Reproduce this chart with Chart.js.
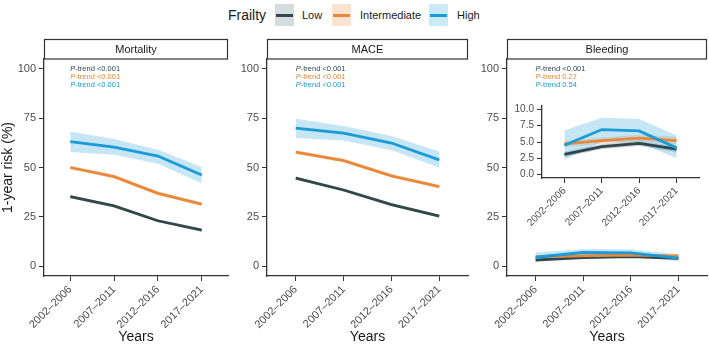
<!DOCTYPE html>
<html>
<head>
<meta charset="utf-8">
<script src="https://cdn.jsdelivr.net/npm/chart.js@4.4.0/dist/chart.umd.min.js"></script>
<style>
  body { margin: 0; background: #fff; }
  #wrap { position: relative; width: 709px; height: 346px; overflow: hidden; font-family: "Liberation Sans", Arial, sans-serif; }
  canvas { position: absolute; }
  .lg { position: absolute; color: #1a1a1a; white-space: nowrap; }
  .key { position: absolute; top: 4px; width: 19px; height: 22px; }
  .key i { position: absolute; left: 1px; right: 1px; top: 10px; height: 3px; }
</style>
</head>
<body>
<div id="wrap">
  <div class="lg" style="left:228px; top:6px; font-size:14px; line-height:18px;">Frailty</div>
  <div class="key" style="left:275px; background:#d5dcdd;"><i style="background:#2f474d"></i></div>
  <div class="lg" style="left:302px; top:8px; font-size:11px; line-height:14px;">Low</div>
  <div class="key" style="left:332px; background:#fbe3d0;"><i style="background:#e8883a"></i></div>
  <div class="lg" style="left:360px; top:8px; font-size:11px; line-height:14px;">Intermediate</div>
  <div class="key" style="left:429px; background:#c9eaf8;"><i style="background:#1a9ad6"></i></div>
  <div class="lg" style="left:457px; top:8px; font-size:11px; line-height:14px;">High</div>

  <canvas id="mortality" width="235" height="346" style="left:0; top:0;"></canvas>
  <canvas id="mace" width="240" height="346" style="left:235px; top:0;"></canvas>
  <canvas id="bleeding" width="234" height="346" style="left:475px; top:0;"></canvas>
  <canvas id="inset" width="209" height="145" style="left:500px; top:95px;"></canvas>
</div>
<script>
// periode dan grup frailty
const periods = ['2002–2006', '2007–2011', '2012–2016', '2017–2021'];
const groups = ['Low', 'Intermediate', 'High'];
const yTicks = [0, 25, 50, 75, 100];
const insetTicks = [0, 2.5, 5, 7.5, 10];

// Mortality (%)
const mortLow = [35.2, 30.5, 23.0, 18.3];
const mortLowLo = [34.4, 29.7, 22.3, 17.5];
const mortLowHi = [36.0, 31.3, 23.7, 19.1];
const mortInt = [50.0, 45.4, 36.9, 31.4];
const mortIntLo = [49.0, 44.4, 35.9, 30.4];
const mortIntHi = [51.0, 46.4, 37.9, 32.4];
const mortHigh = [63.1, 60.3, 55.8, 46.2];
const mortHighLo = [57.8, 56.4, 51.9, 42.0];
const mortHighHi = [68.2, 64.4, 59.0, 50.2];

// MACE (%)
const maceLow = [44.6, 38.6, 31.2, 25.4];
const maceLowLo = [43.8, 37.8, 30.4, 24.6];
const maceLowHi = [45.4, 39.4, 32.0, 26.2];
const maceInt = [57.8, 53.5, 45.8, 40.3];
const maceIntLo = [56.8, 52.5, 44.8, 39.3];
const maceIntHi = [58.8, 54.5, 46.8, 41.3];
const maceHigh = [70.0, 67.4, 62.4, 53.9];
const maceHighLo = [64.9, 63.7, 58.8, 50.0];
const maceHighHi = [74.7, 71.0, 66.0, 58.1];

// Bleeding (%)
const bleedLow = [3.1, 4.3, 4.8, 3.9];
const bleedLowLo = [2.7, 3.9, 4.4, 3.4];
const bleedLowHi = [3.5, 4.7, 5.2, 4.3];
const bleedInt = [4.7, 5.2, 5.6, 5.2];
const bleedIntLo = [4.2, 4.7, 5.1, 4.6];
const bleedIntHi = [5.2, 5.7, 6.1, 5.8];
const bleedHigh = [4.5, 6.9, 6.7, 4.1];
const bleedHighLo = [2.3, 5.0, 4.9, 2.5];
const bleedHighHi = [6.8, 8.7, 8.5, 6.0];

// P-trend per grup (Low, Intermediate, High)
const mortP = ['<0.001', '<0.001', '<0.001'];
const maceP = ['<0.001', '<0.001', '<0.001'];
const bleedP = ['<0.001', '0.27', '0.54'];

const FONT = '"Liberation Sans", Arial, sans-serif';
const lineColors = ['#2f474d', '#e8883a', '#1a9ad6'];
const bandColors = ['rgba(47,71,77,0.22)', 'rgba(232,136,58,0.22)', 'rgba(26,154,214,0.25)'];
const axisColor = '#333333';
const tickColor = '#4d4d4d';

const pts = arr => arr.map((v, i) => ({ x: i + 1, y: v }));

// garis di atas, pita (ribbon) di bawah
function buildDatasets(series) {
    const lines = [], bands = [];
    series.forEach((s, g) => {
        lines.unshift({ data: pts(s[0]), borderColor: lineColors[g], borderWidth: 2.8, pointRadius: 0, fill: false, tension: 0 });
        bands.unshift(
            { data: pts(s[2]), borderColor: 'rgba(0,0,0,0)', borderWidth: 0, pointRadius: 0, backgroundColor: bandColors[g], fill: '+1' },
            { data: pts(s[1]), borderColor: 'rgba(0,0,0,0)', borderWidth: 0, pointRadius: 0, fill: false }
        );
    });
    return lines.concat(bands);
}

const stripPlugin = {
    id: 'strip',
    afterDraw(chart, args, opts) {
        if (!opts.text) return;
        const { ctx, chartArea } = chart;
        const x = chartArea.left, w = chartArea.right - chartArea.left;
        ctx.save();
        ctx.fillStyle = '#fff';
        ctx.fillRect(x, 39, w, 20);
        ctx.strokeStyle = axisColor;
        ctx.lineWidth = 1.2;
        ctx.strokeRect(x + 0.5, 39.5, w - 1, 19.5);
        ctx.fillStyle = '#1a1a1a';
        ctx.font = '11px ' + FONT;
        ctx.textAlign = 'center';
        ctx.textBaseline = 'middle';
        ctx.fillText(opts.text, x + w / 2, 49.5);
        ctx.restore();
    }
};

const ptrendPlugin = {
    id: 'ptrend',
    afterDatasetsDraw(chart, args, opts) {
        if (!opts.values) return;
        const ctx = chart.ctx;
        const x0 = chart.scales.x.getPixelForValue(1);
        const y0 = chart.scales.y.getPixelForValue(100);
        ctx.save();
        ctx.textAlign = 'left';
        ctx.textBaseline = 'middle';
        opts.values.forEach((v, g) => {
            const y = y0 + g * 7.8;
            ctx.fillStyle = lineColors[g];
            ctx.font = 'italic 7.5px ' + FONT;
            ctx.fillText('P', x0, y);
            const w = ctx.measureText('P').width;
            ctx.font = '7.5px ' + FONT;
            ctx.fillText('-trend ' + v, x0 + w, y);
        });
        ctx.restore();
    }
};

Chart.register(stripPlugin, ptrendPlugin);

function axisGrid(len) {
    return { display: true, drawOnChartArea: false, drawTicks: true, tickLength: len, color: axisColor, lineWidth: 1 };
}

function makePanel(id, p) {
    const canvas = document.getElementById(id);
    return new Chart(canvas.getContext('2d'), {
        type: 'line',
        data: { datasets: buildDatasets(p.series) },
        options: {
            responsive: false,
            devicePixelRatio: 1,
            animation: false,
            events: [],
            layout: { padding: { left: 0, right: p.padRight, top: p.padTop, bottom: 0 } },
            plugins: {
                legend: { display: false },
                tooltip: { enabled: false },
                strip: { text: p.strip },
                ptrend: { values: p.pvals }
            },
            scales: {
                x: {
                    type: 'linear',
                    min: 0.4, max: 4.6,
                    afterBuildTicks: s => { s.ticks = periods.map((_, i) => ({ value: i + 1 })); },
                    afterFit: s => { s.height = p.xHeight; },
                    grid: axisGrid(5),
                    border: { display: true, color: axisColor, width: 1.3 },
                    ticks: {
                        autoSkip: false, minRotation: 45, maxRotation: 45, padding: 2,
                        color: tickColor, font: { size: p.tickSize, family: FONT },
                        callback: v => periods[v - 1]
                    },
                    title: {
                        display: !!p.xTitle, text: p.xTitle, color: '#1a1a1a',
                        font: { size: 14, family: FONT }, padding: 0
                    }
                },
                y: {
                    type: 'linear',
                    min: p.yMin, max: p.yMax,
                    afterBuildTicks: s => { s.ticks = p.yTicks.map(v => ({ value: v })); },
                    afterFit: s => { s.width = p.yWidth; },
                    grid: axisGrid(5),
                    border: { display: true, color: axisColor, width: 1.3 },
                    ticks: {
                        color: tickColor, padding: 3, font: { size: p.tickSize, family: FONT },
                        callback: p.yFmt || (v => v)
                    },
                    title: {
                        display: !!p.yTitle, text: p.yTitle, color: '#1a1a1a',
                        font: { size: 14, family: FONT }, padding: 0
                    }
                }
            }
        }
    });
}

const base = { yMin: -5, yMax: 105, yTicks: yTicks, padTop: 59, xHeight: 70, tickSize: 11, xTitle: 'Years' };

makePanel('mortality', Object.assign({}, base, {
    strip: 'Mortality', pvals: mortP, yWidth: 44, padRight: 7, yTitle: '1-year risk (%)',
    series: [[mortLow, mortLowLo, mortLowHi], [mortInt, mortIntLo, mortIntHi], [mortHigh, mortHighLo, mortHighHi]]
}));

makePanel('mace', Object.assign({}, base, {
    strip: 'MACE', pvals: maceP, yWidth: 32, padRight: 7,
    series: [[maceLow, maceLowLo, maceLowHi], [maceInt, maceIntLo, maceIntHi], [maceHigh, maceHighLo, maceHighHi]]
}));

const bleedSeries = [[bleedLow, bleedLowLo, bleedLowHi], [bleedInt, bleedIntLo, bleedIntHi], [bleedHigh, bleedHighLo, bleedHighHi]];

makePanel('bleeding', Object.assign({}, base, {
    strip: 'Bleeding', pvals: bleedP, yWidth: 32, padRight: 2,
    series: bleedSeries
}));

// grafik sisipan (zoom 0-10%)
makePanel('inset', {
    yMin: -0.5, yMax: 10.5, yTicks: insetTicks, padTop: 11, xHeight: 62, tickSize: 10,
    yWidth: 42, padRight: 10, yFmt: v => v.toFixed(1),
    series: bleedSeries
});
</script>
</body>
</html>
